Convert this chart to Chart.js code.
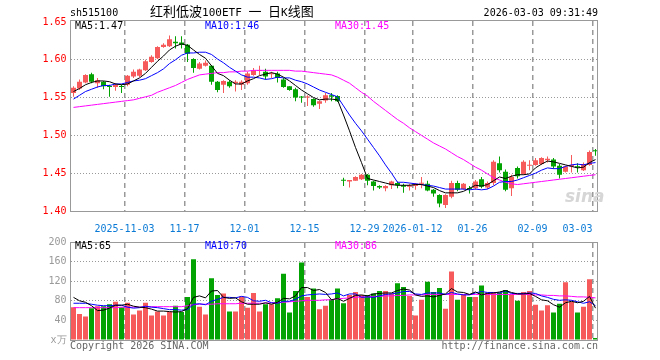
<!DOCTYPE html>
<html>
<head>
<meta charset="utf-8">
<script src="https://cdn.jsdelivr.net/npm/chart.js@4.4.1/dist/chart.umd.min.js"></script>
<style>
  html, body { margin: 0; padding: 0; background: #fff; }
  #wrap { position: relative; width: 660px; height: 360px; overflow: hidden;
          font-family: "DejaVu Sans Mono", monospace; font-size: 10px; }
  canvas { position: absolute; left: 0; }
  .t { position: absolute; white-space: pre; line-height: 12px; }
  .title { font: 13px/20px "Noto Sans CJK SC", sans-serif; }
  .title span { font: 11px "DejaVu Sans Mono", monospace; }
</style>
</head>
<body>
<div id="wrap">
  <canvas id="kline" width="660" height="232" style="top:0;width:660px;height:232px"></canvas>
  <canvas id="vol" width="660" height="128" style="top:232px;width:660px;height:128px"></canvas>

  <div class="t" style="left:70px;top:7px">sh515100</div>
  <div class="t title" style="left:150px;top:1px">红利低波<span>100ETF </span>一<span> </span>日<span>K</span>线图</div>
  <div class="t" style="right:62px;top:7px">2026-03-03 09:31:49</div>

  <div class="t" style="left:75px;top:20px;color:#000">MA5:1.47</div>
  <div class="t" style="left:205px;top:20px;color:#00f">MA10:1.46</div>
  <div class="t" style="left:335px;top:20px;color:#f0f">MA30:1.45</div>

  <div class="t" style="left:75px;top:240px;color:#000">MA5:65</div>
  <div class="t" style="left:205px;top:240px;color:#00f">MA10:70</div>
  <div class="t" style="left:335px;top:240px;color:#f0f">MA30:86</div>

  <div class="t" style="left:565px;top:186px;font:italic bold 17px 'DejaVu Sans',sans-serif;color:#d6d6d6">sina</div>

  <div class="t" style="left:70px;top:340px;color:#666">Copyright 2026 SINA.COM</div>
  <div class="t" style="right:62px;top:340px;color:#666">http://finance.sina.com.cn</div>
</div>

<script>
// trading days shown on the chart
const dates = [
  "2025-10-21","2025-10-22","2025-10-23","2025-10-24","2025-10-27","2025-10-28","2025-10-29","2025-10-30","2025-10-31",
  "2025-11-03","2025-11-04","2025-11-05","2025-11-06","2025-11-07","2025-11-10","2025-11-11","2025-11-12","2025-11-13","2025-11-14",
  "2025-11-17","2025-11-18","2025-11-19","2025-11-20","2025-11-21","2025-11-24","2025-11-25","2025-11-26","2025-11-27","2025-11-28",
  "2025-12-01","2025-12-02","2025-12-03","2025-12-04","2025-12-05","2025-12-08","2025-12-09","2025-12-10","2025-12-11","2025-12-12",
  "2025-12-15","2025-12-16","2025-12-17","2025-12-18","2025-12-19","2025-12-22","2025-12-23","2025-12-24","2025-12-25","2025-12-26",
  "2025-12-29","2025-12-30","2025-12-31",
  "2026-01-05","2026-01-06","2026-01-07","2026-01-08","2026-01-09","2026-01-12","2026-01-13","2026-01-14","2026-01-15","2026-01-16",
  "2026-01-19","2026-01-20","2026-01-21","2026-01-22","2026-01-23","2026-01-26","2026-01-27","2026-01-28","2026-01-29","2026-01-30",
  "2026-02-02","2026-02-03","2026-02-04","2026-02-05","2026-02-06","2026-02-09","2026-02-10","2026-02-11","2026-02-12","2026-02-13",
  "2026-02-24","2026-02-25","2026-02-26","2026-02-27","2026-03-02","2026-03-03",
];

const opens = [
  1.556,1.562,1.570,1.581,1.569,1.571,1.565,1.564,1.565,1.567,
  1.578,1.579,1.586,1.597,1.602,1.617,1.618,1.624,1.623,1.620,
  1.601,1.588,1.592,1.592,1.571,1.567,1.571,1.569,1.567,1.569,
  1.580,1.585,1.584,1.581,1.582,1.574,1.565,1.561,1.551,1.550,
  1.548,1.542,1.546,1.553,1.552,1.441,1.439,1.440,1.442,1.448,
  1.439,1.433,1.430,1.434,1.437,1.434,1.432,1.433,1.436,1.436,
  1.428,1.421,1.408,1.419,1.437,1.429,1.430,1.430,1.442,1.431,
  1.437,1.463,1.452,1.430,1.457,1.449,1.460,1.461,1.462,1.467,
  1.468,1.460,1.452,1.459,1.459,1.454,1.461,1.480,
];
const highs = [
  1.565,1.574,1.581,1.583,1.576,1.572,1.567,1.569,1.567,1.580,
  1.587,1.588,1.600,1.606,1.618,1.622,1.632,1.631,1.631,1.621,
  1.602,1.597,1.599,1.593,1.572,1.573,1.573,1.573,1.573,1.584,
  1.589,1.592,1.588,1.584,1.584,1.576,1.565,1.563,1.552,1.553,
  1.549,1.546,1.556,1.556,1.553,1.444,1.441,1.446,1.449,1.449,
  1.440,1.434,1.434,1.440,1.439,1.436,1.436,1.437,1.445,1.440,
  1.429,1.422,1.422,1.440,1.440,1.437,1.433,1.441,1.445,1.439,
  1.467,1.472,1.455,1.448,1.459,1.467,1.467,1.470,1.471,1.472,
  1.470,1.462,1.460,1.474,1.463,1.464,1.480,1.482,
];
const lows = [
  1.551,1.560,1.569,1.569,1.563,1.561,1.551,1.559,1.556,1.565,
  1.576,1.577,1.585,1.596,1.601,1.616,1.617,1.615,1.615,1.597,
  1.583,1.587,1.591,1.567,1.557,1.556,1.563,1.558,1.560,1.567,
  1.579,1.580,1.574,1.576,1.570,1.563,1.559,1.545,1.543,1.539,
  1.538,1.535,1.543,1.545,1.544,1.433,1.431,1.440,1.441,1.434,
  1.427,1.429,1.426,1.429,1.430,1.424,1.427,1.428,1.430,1.426,
  1.419,1.405,1.404,1.417,1.426,1.428,1.423,1.428,1.430,1.429,
  1.434,1.451,1.426,1.420,1.443,1.448,1.454,1.460,1.461,1.464,
  1.456,1.443,1.451,1.451,1.451,1.453,1.460,1.473,
];
const closes = [
  1.563,1.571,1.580,1.571,1.573,1.565,1.564,1.567,1.564,1.579,
  1.584,1.587,1.598,1.604,1.617,1.620,1.627,1.622,1.620,1.608,
  1.589,1.595,1.596,1.571,1.560,1.572,1.565,1.571,1.571,1.582,
  1.586,1.586,1.578,1.582,1.576,1.564,1.560,1.550,1.550,1.551,
  1.540,1.545,1.553,1.551,1.545,1.440,1.441,1.445,1.448,1.440,
  1.433,1.431,1.433,1.439,1.434,1.432,1.434,1.436,1.437,1.427,
  1.423,1.410,1.421,1.437,1.428,1.436,1.429,1.439,1.432,1.437,
  1.465,1.454,1.428,1.445,1.446,1.465,1.461,1.467,1.470,1.469,
  1.459,1.448,1.459,1.461,1.458,1.462,1.478,1.479,
];

const ma5 = [
  1.558,1.562,1.567,1.570,1.572,1.572,1.571,1.568,1.567,1.568,
  1.572,1.576,1.582,1.590,1.598,1.605,1.613,1.618,1.621,1.619,
  1.613,1.607,1.602,1.592,1.582,1.579,1.573,1.568,1.568,1.572,
  1.575,1.579,1.581,1.583,1.581,1.577,1.572,1.566,1.560,1.555,
  1.550,1.547,1.548,1.548,1.547,1.527,1.506,1.484,1.464,1.443,
  1.441,1.439,1.437,1.435,1.434,1.434,1.434,1.435,1.435,1.433,
  1.431,1.427,1.424,1.424,1.424,1.426,1.430,1.434,1.433,1.435,
  1.440,1.445,1.443,1.446,1.448,1.448,1.449,1.457,1.462,1.466,
  1.465,1.463,1.461,1.459,1.457,1.458,1.464,1.468,
];
const ma10 = [
  1.548,1.553,1.558,1.561,1.564,1.566,1.566,1.568,1.568,1.570,
  1.572,1.573,1.575,1.579,1.583,1.588,1.595,1.600,1.606,1.609,
  1.609,1.610,1.610,1.607,1.601,1.596,1.590,1.585,1.580,1.577,
  1.577,1.576,1.574,1.575,1.577,1.576,1.576,1.573,1.571,1.568,
  1.564,1.560,1.557,1.554,1.551,1.539,1.527,1.516,1.506,1.495,
  1.484,1.473,1.461,1.450,1.438,1.438,1.437,1.436,1.435,1.434,
  1.433,1.431,1.429,1.429,1.429,1.429,1.428,1.429,1.428,1.429,
  1.433,1.438,1.439,1.439,1.441,1.444,1.447,1.450,1.454,1.457,
  1.456,1.456,1.459,1.461,1.462,1.461,1.463,1.464,
];
const ma30 = [
  1.537,1.538,1.539,1.540,1.541,1.542,1.543,1.544,1.545,1.546,
  1.547,1.549,1.551,1.553,1.557,1.560,1.563,1.566,1.570,1.574,
  1.577,1.580,1.581,1.582,1.583,1.583,1.584,1.584,1.585,1.585,
  1.586,1.586,1.586,1.586,1.586,1.586,1.586,1.585,1.585,1.584,
  1.583,1.582,1.581,1.580,1.577,1.573,1.569,1.563,1.557,1.552,
  1.545,1.539,1.533,1.527,1.521,1.516,1.510,1.505,1.500,1.495,
  1.490,1.486,1.482,1.477,1.472,1.468,1.463,1.458,1.454,1.449,
  1.444,1.441,1.438,1.436,1.435,1.436,1.437,1.438,1.439,1.440,
  1.441,1.442,1.443,1.444,1.445,1.446,1.447,1.448,
];

// volume, in units of 10k
const volumes = [
  67,53,48,65,69,69,73,78,67,76,
  52,60,76,50,58,50,57,70,57,88,
  165,68,52,126,92,95,58,58,89,66,
  96,58,73,73,85,135,56,100,158,88,
  105,63,70,83,105,75,92,98,92,92,
  95,100,100,95,116,108,90,50,82,119,
  98,106,64,140,82,93,88,88,111,97,
  97,97,102,93,80,98,100,72,60,71,
  56,74,118,78,56,68,124,4,
];
const volMa5 = [
  87,80,77,70,60,61,65,71,71,73,
  69,67,66,63,59,59,58,57,58,64,
  87,90,86,100,101,87,85,86,78,73,
  73,73,76,73,77,85,84,90,107,107,
  101,103,97,82,85,79,85,91,92,90,
  94,95,96,96,101,104,102,92,89,90,
  88,91,94,105,98,97,93,98,92,95,
  96,98,101,97,94,94,95,89,82,80,
  72,67,76,79,76,79,89,65,
];
const volMa10 = [
  75,75,75,73,71,70,70,71,71,67,
  65,66,69,67,66,64,62,62,61,62,
  73,74,72,79,83,87,87,86,89,87,
  80,79,81,76,75,79,79,83,90,92,
  93,94,93,94,96,90,94,94,87,88,
  87,90,93,94,96,99,99,94,93,96,
  96,96,93,97,94,92,92,96,99,97,
  97,96,100,95,95,95,96,95,90,87,
  83,81,82,81,78,75,78,70,
];
const volMa30 = [
  66,66,66,66,66,66,66,66,67,67,
  67,67,68,68,68,68,68,68,68,70,
  72,73,73,73,74,74,74,74,75,75,
  75,75,75,76,76,77,78,79,80,81,
  81,81,82,82,84,85,86,87,88,88,
  89,89,90,90,91,91,92,92,92,93,
  93,93,93,93,93,93,93,93,93,93,
  93,93,93,93,93,93,93,92,92,91,
  91,90,90,89,88,88,87,86,
];

const priceTicks = [1.40, 1.45, 1.50, 1.55, 1.60, 1.65];
const volumeTicks = [0, 40, 80, 120, 160, 200];
const tickDates = ["2025-11-03","2025-11-17","2025-12-01","2025-12-15","2025-12-29","2026-01-12","2026-01-26","2026-02-09","2026-03-03"];
const tickTexts = ["2025-11-03","11-17","12-01","12-15","12-29","2026-01-12","01-26","02-09","03-03     "];

const UP = "#f65a5a";
const DOWN = "#02a302";
const GRID = "#999";
const MONO = "'DejaVu Sans Mono', monospace";

const candleColors = closes.map((c, i) => (c >= opens[i] ? UP : DOWN));

function dateTick(i) {
  const k = tickDates.indexOf(dates[i]);
  return k < 0 ? "" : tickTexts[k];
}

// dashed date lines on the left edge of each labelled day, plus the grey box
const frame = {
  id: "frame",
  beforeDatasetsDraw(chart) {
    const { ctx, chartArea: a, scales: { x } } = chart;
    const half = (x.getPixelForValue(1) - x.getPixelForValue(0)) / 2;
    ctx.save();
    ctx.strokeStyle = GRID;
    ctx.lineWidth = 1.5;
    ctx.setLineDash([5, 4]);
    tickDates.forEach((d) => {
      const px = Math.floor(x.getPixelForValue(dates.indexOf(d)) - half) + 0.75;
      ctx.beginPath();
      ctx.moveTo(px, a.top + 1);
      ctx.lineTo(px, a.bottom);
      ctx.stroke();
    });
    ctx.restore();
  },
  afterDraw(chart) {
    const { ctx, chartArea: a } = chart;
    ctx.save();
    ctx.strokeStyle = "#999";
    ctx.lineWidth = 1;
    ctx.strokeRect(a.left, a.top + 0.5, a.right - a.left - 1, a.bottom - a.top);
    ctx.restore();
  },
};

function maLine(data, color) {
  return { type: "line", data, borderColor: color, borderWidth: 1, pointRadius: 0, tension: 0, order: 0 };
}

function xScale(showLabels, height) {
  return {
    type: "category",
    offset: true,
    grid: { display: false },
    border: { display: false },
    ticks: {
      display: showLabels,
      autoSkip: false,
      maxRotation: 0,
      minRotation: 0,
      padding: 4,
      labelOffset: -3,
      color: "#0a7ad6",
      font: { family: MONO, size: 10 },
      callback: (v, i) => dateTick(i),
    },
    afterFit: (s) => { s.height = height; },
  };
}

const common = {
  responsive: false,
  animation: false,
  events: [],
  plugins: { legend: { display: false }, tooltip: { enabled: false } },
};

// ── K line ───────────────────────────────────────────────────
new Chart(document.getElementById("kline"), {
  data: {
    labels: dates,
    datasets: [
      maLine(ma5, "#000"),
      maLine(ma10, "#00f"),
      maLine(ma30, "#f0f"),
      {
        type: "bar",
        data: opens.map((o, i) => [o, closes[i]]),
        backgroundColor: candleColors,
        barThickness: 5,
        minBarLength: 1,
        grouped: false,
        inflateAmount: 0,
        order: 1,
      },
      {
        type: "bar",
        data: lows.map((l, i) => [l, highs[i]]),
        backgroundColor: candleColors,
        barThickness: 1,
        grouped: false,
        inflateAmount: 0,
        order: 2,
      },
    ],
  },
  options: {
    ...common,
    layout: { padding: { left: 0.5, right: 61.5, top: 20, bottom: 0 } },
    scales: {
      x: xScale(true, 21),
      y: {
        min: 1.40,
        max: 1.6526,
        afterBuildTicks: (s) => { s.ticks = priceTicks.map((v) => ({ value: v })); },
        grid: {
          drawTicks: false,
          color: (ctx) => (ctx.tick && ctx.tick.value > 1.401 && ctx.tick.value < 1.649 ? GRID : "transparent"),
        },
        border: { display: false, dash: [1, 2] },
        ticks: {
          color: "#f00",
          padding: 4,
          font: { family: MONO, size: 10 },
          callback: (v) => v.toFixed(2),
        },
        afterFit: (s) => { s.width = 70; },
      },
    },
  },
  plugins: [frame],
});

// ── Volume ───────────────────────────────────────────────────
new Chart(document.getElementById("vol"), {
  data: {
    labels: dates,
    datasets: [
      maLine(volMa5, "#000"),
      maLine(volMa10, "#00f"),
      maLine(volMa30, "#f0f"),
      {
        type: "bar",
        data: volumes,
        backgroundColor: candleColors,
        barThickness: 5,
        grouped: false,
        inflateAmount: 0,
        order: 1,
      },
    ],
  },
  options: {
    ...common,
    layout: { padding: { left: 0.5, right: 61.5, top: 8, bottom: 0 } },
    scales: {
      x: xScale(false, 20),
      y: {
        min: 0,
        max: 200,
        afterBuildTicks: (s) => { s.ticks = volumeTicks.map((v) => ({ value: v })); },
        grid: {
          drawTicks: false,
          color: (ctx) => (ctx.tick && ctx.tick.value > 0 && ctx.tick.value < 200 ? GRID : "transparent"),
        },
        border: { display: false, dash: [1, 2] },
        ticks: {
          color: "#999",
          padding: 4,
          font: { family: MONO, size: 10 },
          callback: (v) => (v === 0 ? "x万" : String(v)),
        },
        afterFit: (s) => { s.width = 70; },
      },
    },
  },
  plugins: [frame],
});
</script>
</body>
</html>
